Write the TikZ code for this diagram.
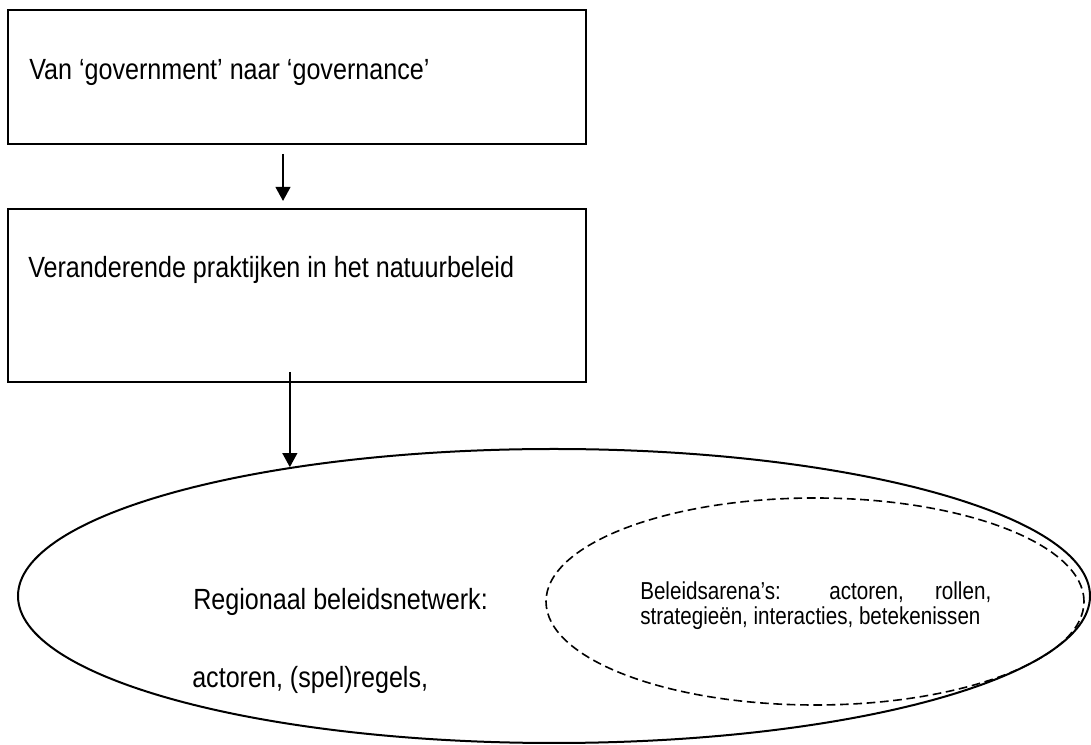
\documentclass[tikz,border=0pt]{standalone}
\usepackage{fontspec}
\setmainfont{Liberation Sans}[FakeStretch=0.86]
\newfontfamily\smalfont{Liberation Sans}[FakeStretch=0.84]
\usepackage{tikz}
\usetikzlibrary{positioning,shapes.geometric,arrows.meta}
\definecolor{LineBlack}{HTML}{000000}
\tikzset{
  stapbox/.style={
    draw=LineBlack,line width=1.5pt,
    minimum width=433.5pt,inner sep=0pt
  },
  tekst/.style={
    font=\fontsize{21.9}{24}\selectfont,
    anchor=base west,inner sep=0pt
  },
  kleintekst/.style={
    font=\smalfont\fontsize{18.4}{18.75}\selectfont,
    anchor=base west,inner sep=0pt,
    text width=263.25pt,align=justify
  },
  pijl/.style={
    draw=LineBlack,line width=1.5pt,
    -{Triangle[width=11pt,length=10.5pt]}
  },
}

\begin{document}
\begin{tikzpicture}[x=0.75pt,y=0.75pt]
  \useasboundingbox (0,0) rectangle (1091,745);
  \node[stapbox,minimum height=100.5pt] (gov) at (297,668) {};
  \node[stapbox,minimum height=129.75pt] (prak) at (297,449.5) {};
  \node[ellipse,draw=LineBlack,line width=1.5pt,inner sep=0pt,
        minimum width=804pt,minimum height=220.5pt] (net) at (554,149) {};
  \node[ellipse,draw=LineBlack,line width=1.2pt,inner sep=0pt,
        dash pattern=on 6.5pt off 3.5pt,
        minimum width=403.5pt,minimum height=155.25pt] (arena) at (815,143.5) {};
  \node[tekst] (govtxt) at ([shift={(22,-71)}]gov.north west)
    {Van ‘government’ naar ‘governance’};
  \node[tekst] (praktxt) at ([shift={(21,-70)}]prak.north west)
    {Veranderende praktijken in het natuurbeleid};
  \node[tekst] (nettxt) at (193,135) {Regionaal beleidsnetwerk:};
  \node[tekst] (nettxt2) at (192,57) {actoren, (spel)regels,};
  \node[kleintekst] (arenatxt) at (640,145)
    {Beleidsarena’s: actoren, rollen,\linebreak strategieën, interacties, betekenissen};
  % pijlen
  \draw[pijl,shorten <=6.75pt,shorten >=5.25pt] ([xshift=-10.5pt]gov.south) -- ([xshift=-10.5pt]prak.north);
  \draw[pijl] ([yshift=8.25pt]prak.south -| net.154) -- (net.154);
\end{tikzpicture}
\end{document}
